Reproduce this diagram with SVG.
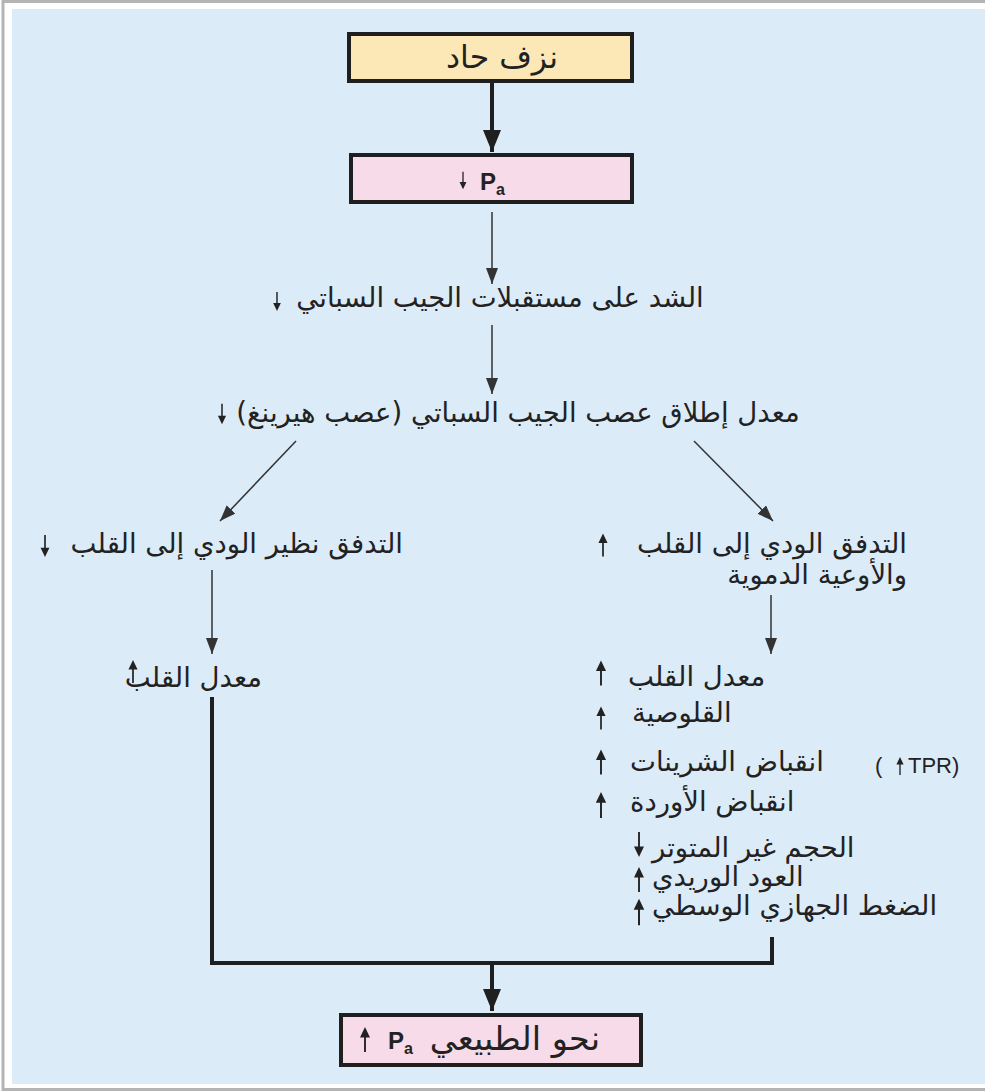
<svg xmlns="http://www.w3.org/2000/svg" xmlns:xlink="http://www.w3.org/1999/xlink" width="985" height="1091" viewBox="0 0 985 1091">
  <style>
    .ar { font-family: "DejaVu Sans", sans-serif; fill: #222222; font-size: 27.5px; }
    .ar-big { font-family: "DejaVu Sans", sans-serif; fill: #222222; font-size: 32px; }
    .lat { font-family: "Liberation Sans", Arial, sans-serif; fill: #222222; }
    .thick { stroke: #1f1f1f; stroke-width: 4; fill: none; }
    .thin { stroke: #333333; stroke-width: 1.5; fill: none; }
    .box { stroke: #1f1f1f; stroke-width: 4; }
  </style>
  <defs>
    <marker id="headThin" markerUnits="userSpaceOnUse" markerWidth="18" markerHeight="14" refX="16" refY="6" orient="auto">
      <path d="M0,0 L16,6 L0,12 Z" fill="#333333"/>
    </marker>
    <marker id="headThick" markerUnits="userSpaceOnUse" markerWidth="24" markerHeight="20" refX="22" refY="9" orient="auto">
      <path d="M0,0 L22,9 L0,18 Z" fill="#1f1f1f"/>
    </marker>
    <!-- small increase/decrease indicator, 24 units tall, centred on the origin -->
    <path id="ind" d="M-0.9,12 L-0.9,-2 L-4.8,-2 L0,-12 L4.8,-2 L0.9,-2 L0.9,12 Z" fill="#222222"/>
  </defs>

  <!-- page frame -->
  <rect x="0" y="0" width="985" height="1091" fill="#ffffff"/>
  <rect x="3" y="1.5" width="990" height="1088" fill="none" stroke="#b4b4b4" stroke-width="3"/>
  <rect x="12" y="9" width="973" height="1075" fill="#dcebf8"/>

  <!-- connectors -->
  <g id="connectors">
    <line class="thick" x1="492" y1="83" x2="492" y2="152" marker-end="url(#headThick)"/>
    <line class="thin" x1="492" y1="212" x2="492" y2="284" marker-end="url(#headThin)"/>
    <line class="thin" x1="492" y1="325" x2="492" y2="394" marker-end="url(#headThin)"/>
    <line class="thin" x1="296" y1="441" x2="220" y2="521" marker-end="url(#headThin)"/>
    <line class="thin" x1="694" y1="441" x2="773" y2="521" marker-end="url(#headThin)"/>
    <line class="thin" x1="212" y1="570" x2="212" y2="654" marker-end="url(#headThin)"/>
    <line class="thin" x1="771" y1="595" x2="771" y2="654" marker-end="url(#headThin)"/>
    <polyline class="thick" points="212,697 212,963 772,963 772,937"/>
    <line class="thick" x1="492" y1="963" x2="492" y2="1011" marker-end="url(#headThick)"/>
  </g>

  <!-- acute haemorrhage -->
  <g id="node-haemorrhage">
    <rect class="box" x="349" y="34" width="283" height="47" fill="#fce8b6"/>
    <text class="ar" x="502" y="68" style="font-size:31.5px" text-anchor="middle">نزف حاد</text>
  </g>

  <!-- fall in arterial pressure -->
  <g id="node-pa-down">
    <rect class="box" x="351" y="155" width="281" height="47" fill="#f8dbe8"/>
    <use xlink:href="#ind" transform="translate(463,180.5) scale(0.72,-0.72)"/>
    <text class="lat" x="480" y="190" font-size="24" font-weight="bold">P<tspan font-size="16" dy="5">a</tspan></text>
  </g>

  <g id="node-stretch">
    <text class="ar" x="500" y="307" text-anchor="middle">الشد على مستقبلات الجيب السباتي</text>
    <use xlink:href="#ind" transform="translate(277,301.5) scale(0.8,-0.8)"/>
  </g>

  <g id="node-firing">
    <text class="ar" x="518" y="422" text-anchor="middle">معدل إطلاق عصب الجيب السباتي (عصب هيرينغ)</text>
    <use xlink:href="#ind" transform="translate(222,414) scale(0.85,-0.85)"/>
  </g>

  <g id="node-parasympathetic">
    <text class="ar" x="403" y="553" text-anchor="end">التدفق نظير الودي إلى القلب</text>
    <use xlink:href="#ind" transform="translate(45,546) scale(0.92,-0.92)"/>
  </g>

  <g id="node-sympathetic">
    <text class="ar" x="907" y="553" text-anchor="end">التدفق الودي إلى القلب</text>
    <text class="ar" x="907" y="584" text-anchor="end">والأوعية الدموية</text>
    <use xlink:href="#ind" transform="translate(603,545) scale(0.95)"/>
  </g>

  <g id="node-heart-rate-left">
    <text class="ar" x="262" y="687" text-anchor="end">معدل القلب</text>
    <use xlink:href="#ind" transform="translate(133,671.5) scale(0.95)"/>
  </g>

  <g id="node-effects">
    <text class="ar" x="628" y="686" text-anchor="start">معدل القلب</text>
    <use xlink:href="#ind" transform="translate(601,673) scale(1.05)"/>
    <text class="ar" x="632" y="722" text-anchor="start">القلوصية</text>
    <use xlink:href="#ind" transform="translate(601,718) scale(0.95)"/>
    <text class="ar" x="630" y="771" text-anchor="start">انقباض الشرينات</text>
    <use xlink:href="#ind" transform="translate(601,762) scale(1.05)"/>
    <text class="lat" x="875" y="773" font-size="22">(</text>
    <use xlink:href="#ind" transform="translate(900,766) scale(0.75)"/>
    <text class="lat" x="908" y="773" font-size="22">TPR)</text>
    <text class="ar" x="630" y="811" text-anchor="start">انقباض الأوردة</text>
    <use xlink:href="#ind" transform="translate(601,805) scale(1.08)"/>
    <text class="ar" x="652" y="857" text-anchor="start">الحجم غير المتوتر</text>
    <use xlink:href="#ind" transform="translate(639,844.5) scale(1.04,-1.04)"/>
    <text class="ar" x="652" y="886" text-anchor="start">العود الوريدي</text>
    <use xlink:href="#ind" transform="translate(639,879.5) scale(1.04)"/>
    <text class="ar" x="652" y="915" text-anchor="start">الضغط الجهازي الوسطي</text>
    <use xlink:href="#ind" transform="translate(639,912) scale(1.1)"/>
  </g>

  <!-- arterial pressure back toward normal -->
  <g id="node-pa-normal">
    <rect class="box" x="341" y="1015" width="300" height="50" fill="#f8dbe8"/>
    <use xlink:href="#ind" transform="translate(365,1039.5) scale(1.04)"/>
    <text class="lat" x="388" y="1049" font-size="24" font-weight="bold">P<tspan font-size="16" dy="5">a</tspan></text>
    <text class="ar-big" x="600" y="1050" style="font-size:33.5px" text-anchor="end">نحو الطبيعي</text>
  </g>
</svg>
